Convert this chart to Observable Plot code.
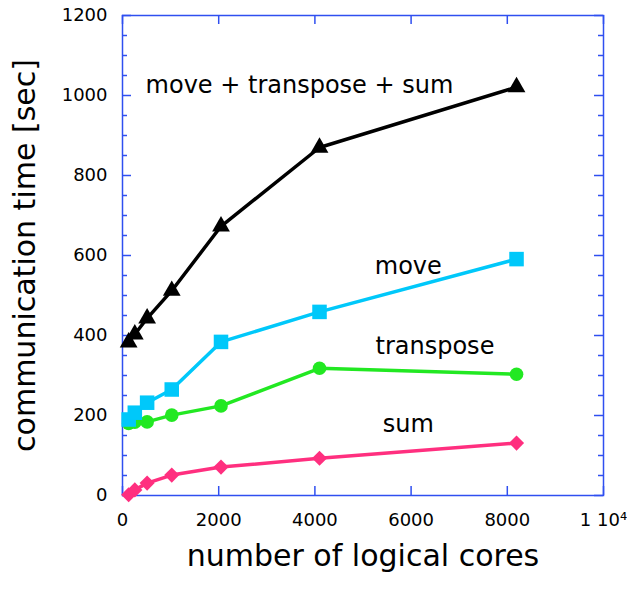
<!DOCTYPE html>
<html><head><meta charset="utf-8">
<script src="https://cdn.jsdelivr.net/npm/d3@7"></script>
<script src="https://cdn.jsdelivr.net/npm/@observablehq/plot@0.6"></script>
<style>body{margin:0;background:#fff}</style>
</head><body><div id="chart"></div>
<script>
// ---- data ----
const cores = [128, 256, 512, 1024, 2048, 4096, 8192];
const totalTime = [383, 403, 443, 512, 673, 870, 1021];
const moveTime = [190, 207, 232, 265, 384, 459, 591];
const transposeTime = [180, 183, 184, 201, 224, 318, 303];
const sumTime = [2, 14, 31, 51, 71, 93, 131];
const seriesNames = ["move + transpose + sum", "move", "transpose", "sum"];
const seriesColors = ["#000000", "#00c8fa", "#22e822", "#ff2f7f"];
const seriesSymbols = ["triangle", "square", "circle", "diamond2"];
const seriesR = [6.6, 8.2, 6.8, 6.8];
const labelX = [480, 5245, 5260, 5410];
const labelY = [1026, 572, 373, 179];
const xTicks = [0, 2000, 4000, 6000, 8000, 10000];
const xTickLabels = ["0", "2000", "4000", "6000", "8000", "1 10\u2074"];
const yTicks = [0, 200, 400, 600, 800, 1000, 1200];
const yMinorTicks = [50, 100, 150, 250, 300, 350, 450, 500, 550, 650, 700, 750, 850, 900, 950, 1050, 1100, 1150];
const xTitle = "number of logical cores";
const yTitle = "communication time [sec]";

const values = [totalTime, moveTime, transposeTime, sumTime];
const rows = seriesNames.flatMap((name, i) => cores.map((c, j) => ({series: name, idx: i, cores: c, time: values[i][j]})));
const labels = seriesNames.map((name, i) => ({name, x: labelX[i], y: labelY[i]}));

const W = 627, H = 590, mL = 122, mR = 24, mT = 15, mB = 95;
const pw = W - mL - mR, ph = H - mT - mB;
const blue = "#2f4ff0";

const seriesMarks = [];
for (const i of [3, 2, 1, 0]) {
  const d = rows.filter(r => r.idx === i);
  seriesMarks.push(Plot.line(d, {x: "cores", y: "time", stroke: seriesColors[i], strokeWidth: 3.5}));
  seriesMarks.push(Plot.dot(d, {x: "cores", y: "time", symbol: seriesSymbols[i], fill: seriesColors[i], r: seriesR[i]}));
}

const chart = Plot.plot({
  width: W, height: H,
  marginLeft: mL, marginRight: mR, marginTop: mT, marginBottom: mB,
  style: {fontFamily: "DejaVu Sans", fontSize: "18px", color: "black", background: "white"},
  x: {domain: [0, 10000], ticks: xTicks, tickFormat: d => xTickLabels[xTicks.indexOf(d)], tickSize: 0, tickPadding: 18, label: null},
  y: {domain: [0, 1200], ticks: yTicks, tickFormat: d => String(d), tickSize: 0, tickPadding: 15, label: null},
  marks: [
    Plot.frame({stroke: blue, strokeWidth: 1.5}),
    Plot.tickX(xTicks, {x: d => d, stroke: blue, strokeWidth: 1.5, insetTop: ph - 9}),
    Plot.tickX(xTicks, {x: d => d, stroke: blue, strokeWidth: 1.5, insetBottom: ph - 9}),
    Plot.tickY(yTicks, {y: d => d, stroke: blue, strokeWidth: 1.5, insetRight: pw - 9}),
    Plot.tickY(yTicks, {y: d => d, stroke: blue, strokeWidth: 1.5, insetLeft: pw - 9}),
    Plot.tickY(yMinorTicks, {y: d => d, stroke: blue, strokeWidth: 1.5, insetRight: pw - 5}),
    Plot.tickY(yMinorTicks, {y: d => d, stroke: blue, strokeWidth: 1.5, insetLeft: pw - 5}),
    ...seriesMarks,
    Plot.text(labels, {x: "x", y: "y", text: "name", textAnchor: "start", fontSize: 24, fill: "black"}),
    Plot.text([xTitle], {frameAnchor: "bottom", dy: 70, fontSize: 30, fill: "black"}),
    Plot.text([yTitle], {frameAnchor: "left", textAnchor: "middle", rotate: -90, dx: -97, fontSize: 30, fill: "black"})
  ]
});
document.getElementById("chart").appendChild(chart);
</script>
</body></html>
